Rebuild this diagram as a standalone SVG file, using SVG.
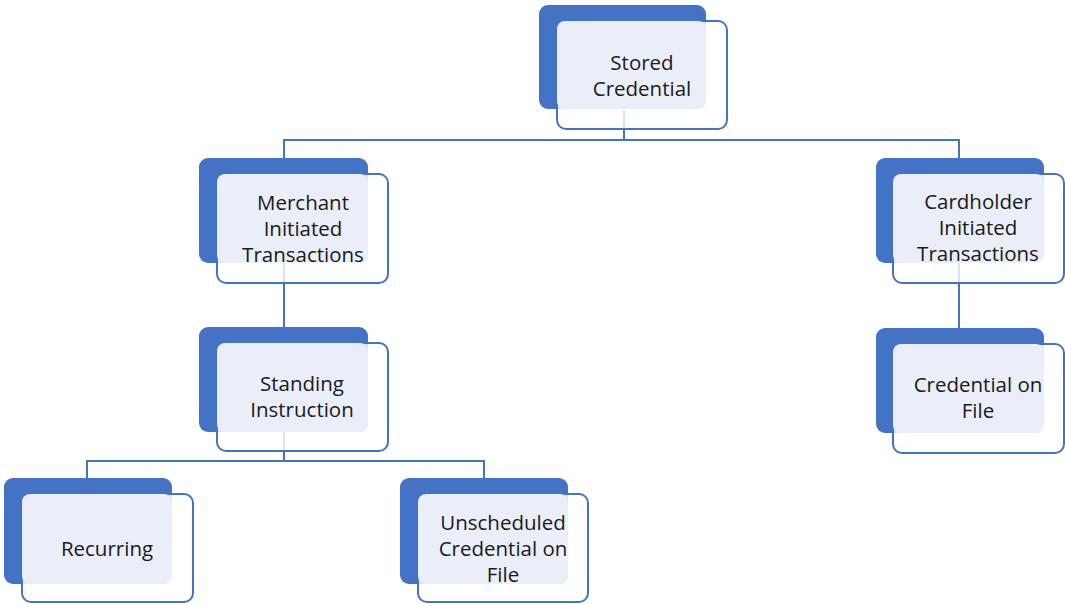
<svg xmlns="http://www.w3.org/2000/svg" width="1065" height="604" viewBox="0 0 1065 604">
<style>
.back{fill:#4472C4}
.front{fill:#fff;fill-opacity:0.8;stroke:#4472C4;stroke-width:2}
.light{fill:#E9EEF8}
.lbl{font-family:"Open Sans","Noto Sans",sans-serif;font-size:20.5px;fill:#1a1a1a;text-anchor:middle}
.conn{stroke:#4472C4;stroke-width:2;fill:none}
</style>
<rect width="1065" height="604" fill="#fff"/>
<g id="connectors">
<path class="conn" d="M624 110V140M284 158V140H959V158"/>
<path class="conn" d="M284 263V327"/>
<path class="conn" d="M959 263V328"/>
<path class="conn" d="M284 432V461M87 478V461H484V478"/>
</g>
<g id="stored-credential">
<rect class="back" x="539" y="5" width="167" height="104" rx="9"/>
<rect class="front" x="557" y="21" width="170" height="108" rx="9"/>
<rect class="light" x="557" y="21" width="149" height="88" rx="8"/>
<text class="lbl" x="642" y="70">Stored</text>
<text class="lbl" x="642" y="96">Credential</text>
</g>
<g id="merchant-initiated">
<rect class="back" x="199" y="158" width="169" height="105" rx="9"/>
<rect class="front" x="217" y="174" width="171" height="109" rx="9"/>
<rect class="light" x="217" y="174" width="151" height="89" rx="8"/>
<text class="lbl" x="303" y="210">Merchant</text>
<text class="lbl" x="303" y="236">Initiated</text>
<text class="lbl" x="303" y="262">Transactions</text>
</g>
<g id="cardholder-initiated">
<rect class="back" x="876" y="158" width="168" height="105" rx="9"/>
<rect class="front" x="893" y="174" width="171" height="109" rx="9"/>
<rect class="light" x="893" y="174" width="151" height="89" rx="8"/>
<text class="lbl" x="978" y="209">Cardholder</text>
<text class="lbl" x="978" y="235">Initiated</text>
<text class="lbl" x="978" y="261">Transactions</text>
</g>
<g id="standing-instruction">
<rect class="back" x="199" y="327" width="169" height="105" rx="9"/>
<rect class="front" x="217" y="343" width="171" height="108" rx="9"/>
<rect class="light" x="217" y="343" width="151" height="89" rx="8"/>
<text class="lbl" x="302" y="391">Standing</text>
<text class="lbl" x="302" y="417">Instruction</text>
</g>
<g id="credential-on-file">
<rect class="back" x="876" y="328" width="168" height="105" rx="9"/>
<rect class="front" x="893" y="344" width="171" height="109" rx="9"/>
<rect class="light" x="893" y="344" width="151" height="89" rx="8"/>
<text class="lbl" x="978" y="392">Credential on</text>
<text class="lbl" x="978" y="418">File</text>
</g>
<g id="recurring">
<rect class="back" x="4" y="478" width="168" height="106" rx="9"/>
<rect class="front" x="22" y="494" width="171" height="108" rx="9"/>
<rect class="light" x="22" y="494" width="150" height="90" rx="8"/>
<text class="lbl" x="107" y="556">Recurring</text>
</g>
<g id="unscheduled-cof">
<rect class="back" x="400" y="478" width="168" height="106" rx="9"/>
<rect class="front" x="418" y="494" width="170" height="108" rx="9"/>
<rect class="light" x="418" y="494" width="150" height="90" rx="8"/>
<text class="lbl" x="503" y="530">Unscheduled</text>
<text class="lbl" x="503" y="556">Credential on</text>
<text class="lbl" x="503" y="582">File</text>
</g>
</svg>
